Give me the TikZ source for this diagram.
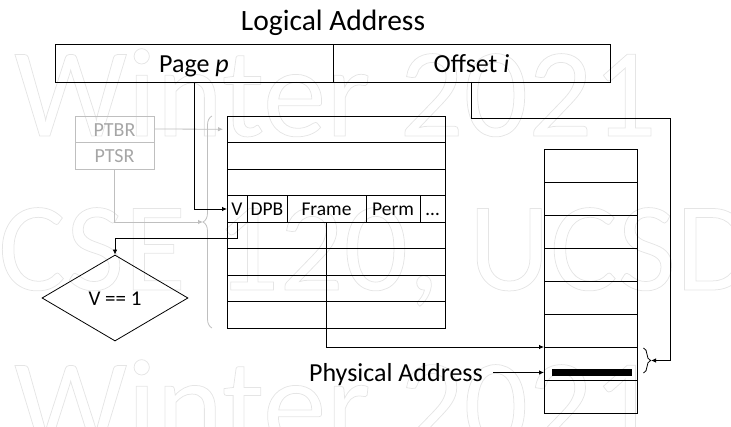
\documentclass[tikz,border=0pt]{standalone}
\usepackage{fontspec}
\setmainfont{Carlito}
\usetikzlibrary{arrows.meta,shapes.geometric,decorations.pathreplacing,calc}

\definecolor{wm}{HTML}{E5E5E5}
\definecolor{regline}{HTML}{BFBFBF}
\definecolor{regtext}{HTML}{A6A6A6}

% glyphs stroked instead of filled (text render mode 1)
\newcommand\hollowtext[1]{\special{pdf:literal direct 1 Tr 0.75 w}#1\special{pdf:literal direct 0 Tr}}

\tikzset{
  cell/.style={draw=black, line width=0.9pt, inner sep=0pt, outer sep=0pt},
  regbox/.style={draw=regline, line width=0.9pt, inner sep=0pt, outer sep=0pt,
    text=regtext, font=\fontsize{20}{21}\selectfont, minimum width=79pt},
  arr/.style={draw=black, line width=0.8pt, -{Latex[length=5pt,width=4.5pt]}},
  grayarr/.style={draw=regline, line width=0.8pt, -{Latex[length=5pt,width=4.5pt]}},
  bartext/.style={font=\fontsize{26}{28}\selectfont, text height=20pt, text depth=1pt},
  entry/.style={font=\fontsize{19.5}{21}\selectfont, text height=15pt, text depth=1pt},
  watermark/.style={font=\fontsize{127}{127}\selectfont, text=wm,
    inner sep=0pt, anchor=base west},
}

\begin{document}
\begin{tikzpicture}[x=1pt,y=-1pt]
\useasboundingbox (0,0) rectangle (731,427);

% faint hollow watermark lettering
\node[watermark] (wmA) at (14,136) {\hollowtext{Winter 2021}};
\node[watermark] (wmB) at (-2,290) {\hollowtext{CSE 120, UCSD}};
\node[watermark] (wmC) at (14,447) {\hollowtext{Winter 2021}};

% logical address
\node[font=\fontsize{29.5}{32}\selectfont, anchor=base, inner sep=0pt] (title) at (333,31) {Logical Address};
\node[cell, bartext, minimum width=278pt, minimum height=38pt] (page) at (194,63) {Page \textit{p}};
\node[cell, bartext, minimum width=277pt, minimum height=38pt] (offset) at (471.5,63) {Offset \textit{i}};

% page table registers
\node[regbox, minimum height=26pt, text height=17pt, text depth=1pt] (ptbr) at (114.5,129) {PTBR};
\node[regbox, minimum height=27pt, text height=16pt, text depth=1pt] (ptsr) at (114.5,155.5) {PTSR};

% page table
\foreach \i in {1,...,8}
  \node[cell, minimum width=218pt, minimum height=26.5pt] (pt\i) at (336,{116+26.5*(\i-0.5)}) {};
\node[cell, entry, minimum width=20pt, minimum height=26.5pt] (vcell) at (237,209) {V};
\node[cell, entry, minimum width=40pt, minimum height=26.5pt] (dpb) at (267,209) {DPB};
\node[cell, entry, minimum width=79pt, minimum height=26.5pt] (frame) at (326.5,209) {Frame};
\node[cell, entry, minimum width=54pt, minimum height=26.5pt] (perm) at (393,209) {Perm};
\node[cell, entry, minimum width=25pt, minimum height=26.5pt] (more) at (432.5,209) {…};

% brace marking the page table extent
\draw[regline, line width=0.8pt, decorate, decoration={brace, amplitude=9pt}]
  (212,328) -- (212,116);
\coordinate (ptbrace) at (203,222);

% physical memory
\foreach \i in {1,...,8}
  \node[cell, minimum width=93pt, minimum height=33pt] (mem\i) at (590.5,{149+33*(\i-0.5)}) {};
\node[fill=black, inner sep=0pt, minimum width=80pt, minimum height=7pt] (bar) at (592,372.5) {};
\draw[black, line width=0.8pt, decorate, decoration={brace, amplitude=7pt}]
  (643.5,348) -- (643.5,373);
\coordinate (membrace) at (651,360.5);
\coordinate (ocorner) at (670,118);

% validity check
\node[draw, line width=0.8pt, diamond, shape aspect=1.7, minimum width=146pt,
  minimum height=86pt, inner sep=0pt, font=\fontsize{21}{23}\selectfont,
  text height=16pt, text depth=0pt] (check) at (115,298) {V == 1};

\node[font=\fontsize{26}{28}\selectfont, anchor=base east, inner sep=0pt] (pa) at (483,382) {Physical Address};

% connectors
\draw[grayarr] (ptbr.east) -- ([xshift=-4pt]pt1.west);
\draw[grayarr] (ptsr.south) |- (ptbrace);
\draw[arr] (page.south) |- (vcell.west);
\draw[arr] (vcell.south) -- ++(0,16.5) -| (check.north);
\draw[arr] (frame.south) |- (mem7.north west);
\draw[arr] (offset.south) |- (ocorner) |- (membrace);
\draw[arr] (pa.east |- bar.center) ++(10,0) -- (mem7.west |- bar.center);
\end{tikzpicture}
\end{document}
